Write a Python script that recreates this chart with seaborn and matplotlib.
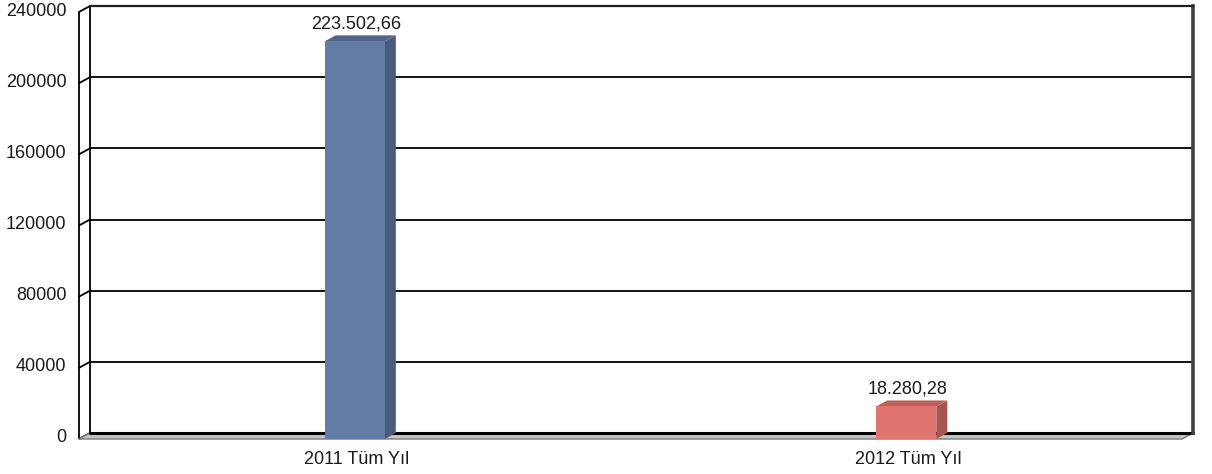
import matplotlib
matplotlib.use("Agg")
import matplotlib.pyplot as plt
import matplotlib.transforms as mtransforms
from matplotlib.patches import Polygon
import seaborn as sns

# Data
categories = ["2011 Tüm Yıl", "2012 Tüm Yıl"]
values = [223502.66, 18280.28]
front_colors = ["#627ca5", "#e0756f"]
top_colors = ["#4f6589", "#bd5f59"]
side_colors = ["#4a5c7c", "#a8554f"]
yticks = [0, 40000, 80000, 120000, 160000, 200000, 240000]

sns.set_style("white")
plt.rcParams["font.family"] = ["Liberation Sans", "DejaVu Sans"]

fig = plt.figure(figsize=(12.12, 4.74), dpi=100)
ax = fig.add_axes([90 / 1212, 41 / 474, 1103 / 1212, 427 / 474])

sns.barplot(x=categories, y=values, hue=categories, palette=front_colors,
            legend=False, width=0.109, saturation=1, ax=ax, zorder=3)

ax.set_xlim(-0.5, 1.5)
ax.set_ylim(0, 240000)
ax.set_yticks(yticks)
ax.set_yticklabels([str(t) for t in yticks])
ax.set_xlabel("")
ax.set_ylabel("")
ax.tick_params(axis="both", length=0, labelsize=13, colors="#1a1a1a")
ax.tick_params(axis="y", pad=17)
ax.tick_params(axis="x", pad=13)

# gridlines on the back wall
for t in yticks[1:]:
    ax.axhline(t, color="black", lw=1.3, zorder=1)

for s in ["left", "bottom"]:
    ax.spines[s].set_visible(False)
ax.spines["top"].set_color("#202020")
ax.spines["top"].set_linewidth(1.6)
ax.spines["right"].set_color("#404040")
ax.spines["right"].set_linewidth(2.6)

# depth of the 3D look in pixels
ddx, ddy = 11, 6
ident = mtransforms.IdentityTransform()


def to_px(x, y, trans):
    return trans.transform((x, y))


# left side wall
bl = to_px(0, 0, ax.transAxes)
tl = to_px(0, 1, ax.transAxes)
wall = Polygon([bl, tl, (tl[0] - ddx, tl[1] - ddy), (bl[0] - ddx, bl[1] - ddy)],
               closed=True, facecolor="white", edgecolor="black", lw=1.3,
               transform=ident, clip_on=False, zorder=2)
ax.add_patch(wall)
for t in yticks[1:-1]:
    p = ax.transData.transform((ax.get_xlim()[0], t))
    ax.add_line(plt.Line2D([p[0], p[0] - ddx], [p[1], p[1] - ddy], color="black",
                           lw=1.3, transform=ident, clip_on=False, zorder=2))

# floor
br = to_px(1, 0, ax.transAxes)
floor = Polygon([bl, br, (br[0] - ddx, br[1] - ddy), (bl[0] - ddx, bl[1] - ddy)],
                closed=True, facecolor="#c4c4c4", edgecolor="#7a7a7a", lw=1.0,
                transform=ident, clip_on=False, zorder=2)
ax.add_patch(floor)
ax.add_line(plt.Line2D([bl[0], br[0]], [bl[1], br[1]], color="black", lw=2.2,
                       transform=ident, clip_on=False, zorder=2))

# 3D bars: seaborn bars sit on the back plane, front face is shifted
shift = mtransforms.Affine2D().translate(-ddx, -ddy)
for i, bar in enumerate(ax.patches[:len(values)]):
    x0, y0 = bar.get_x(), bar.get_y()
    x1, y1 = x0 + bar.get_width(), y0 + bar.get_height()
    b_tl = to_px(x0, y1, ax.transData)
    b_tr = to_px(x1, y1, ax.transData)
    b_br = to_px(x1, y0, ax.transData)
    f_tl = (b_tl[0] - ddx, b_tl[1] - ddy)
    f_tr = (b_tr[0] - ddx, b_tr[1] - ddy)
    f_br = (b_br[0] - ddx, b_br[1] - ddy)
    ax.add_patch(Polygon([f_tl, f_tr, b_tr, b_tl], closed=True,
                         facecolor=top_colors[i], edgecolor="none",
                         transform=ident, clip_on=False, zorder=4))
    ax.add_patch(Polygon([f_tr, f_br, b_br, b_tr], closed=True,
                         facecolor=side_colors[i], edgecolor="none",
                         transform=ident, clip_on=False, zorder=4))
    bar.set_transform(ax.transData + shift)
    bar.set_clip_on(False)
    bar.set_zorder(5)
    bar.set_edgecolor("none")
    label = f"{values[i]:,.2f}".replace(",", "X").replace(".", ",").replace("X", ".")
    ax.annotate(label, ((x0 + x1) / 2, y1), xytext=(-10, 3),
                textcoords="offset pixels", ha="center", va="bottom",
                fontsize=13, color="#1a1a1a", zorder=6)

# tick labels aligned with the front edge
for lab in ax.get_yticklabels():
    lab.set_transform(lab.get_transform() + mtransforms.Affine2D().translate(0, -3))
for lab in ax.get_xticklabels():
    lab.set_transform(lab.get_transform() + mtransforms.Affine2D().translate(-9, 0))

fig.savefig("out.png", dpi=100)
